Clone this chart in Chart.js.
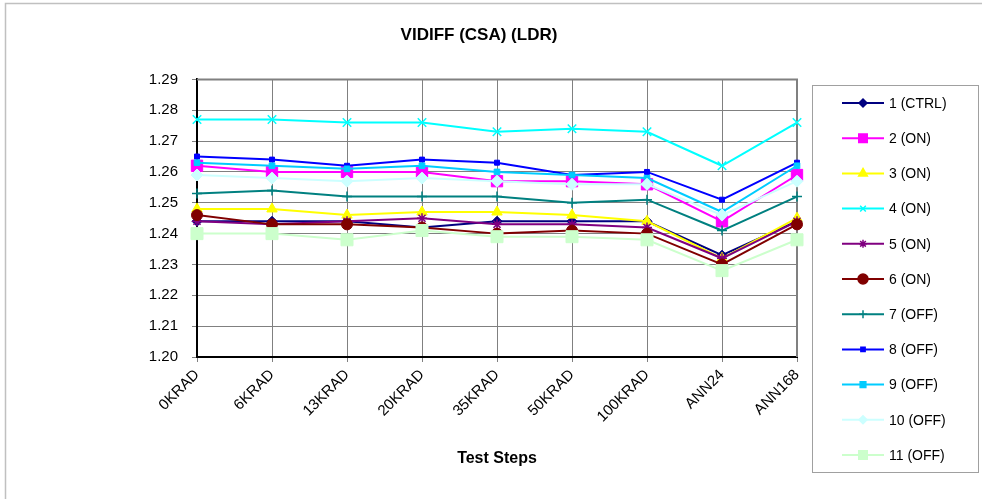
<!DOCTYPE html>
<html>
<head>
<meta charset="utf-8">
<script src="https://cdn.jsdelivr.net/npm/chart.js@4/dist/chart.umd.min.js"></script>
<style>
  html, body { margin: 0; padding: 0; background: #fff; }
  #wrap { width: 982px; height: 499px; position: relative; }
</style>
</head>
<body>
<div id="wrap"><canvas id="chart" width="982" height="499"></canvas></div>
<script>
(function () {
    var steps = ['0KRAD', '6KRAD', '13KRAD', '20KRAD', '35KRAD', '50KRAD', '100KRAD', 'ANN24', 'ANN168'];

    var seriesNames = ['1 (CTRL)', '2 (ON)', '3 (ON)', '4 (ON)', '5 (ON)', '6 (ON)',
        '7 (OFF)', '8 (OFF)', '9 (OFF)', '10 (OFF)', '11 (OFF)'];

    var s1 = [1.244, 1.244, 1.244, 1.242, 1.244, 1.244, 1.244, 1.233, 1.244];
    var s2 = [1.262, 1.260, 1.260, 1.260, 1.257, 1.257, 1.256, 1.244, 1.259];
    var s3 = [1.248, 1.248, 1.246, 1.247, 1.247, 1.246, 1.244, 1.232, 1.245];
    var s4 = [1.277, 1.277, 1.276, 1.276, 1.273, 1.274, 1.273, 1.262, 1.276];
    var s5 = [1.244, 1.243, 1.244, 1.245, 1.243, 1.243, 1.242, 1.232, 1.244];
    var s6 = [1.246, 1.243, 1.243, 1.242, 1.240, 1.241, 1.240, 1.230, 1.243];
    var s7 = [1.253, 1.254, 1.252, 1.252, 1.252, 1.250, 1.251, 1.241, 1.252];
    var s8 = [1.265, 1.264, 1.262, 1.264, 1.263, 1.259, 1.260, 1.251, 1.263];
    var s9 = [1.263, 1.262, 1.261, 1.262, 1.260, 1.259, 1.258, 1.247, 1.262];
    var s10 = [1.259, 1.258, 1.257, 1.258, 1.257, 1.256, 1.256, 1.246, 1.257];
    var s11 = [1.240, 1.240, 1.238, 1.241, 1.239, 1.239, 1.238, 1.228, 1.238];

    var yMin = 1.20, yMax = 1.29, yStep = 0.01;

    var allValues = [s1, s2, s3, s4, s5, s6, s7, s8, s9, s10, s11];

    // excel-ish look for each series: colour, marker, marker size, legend marker size
    var looks = [
        { color: '#000080', style: 'rectRot', r: 5, lr: 4 },
        { color: '#FF00FF', style: 'rect', r: 8, lr: 6 },
        { color: '#FFFF00', style: 'triangle', r: 6, lr: 5 },
        { color: '#00FFFF', style: 'crossRot', r: 6, lr: 4 },
        { color: '#800080', style: 'star', r: 5, lr: 4 },
        { color: '#800000', style: 'circle', r: 5.5, lr: 5 },
        { color: '#008080', style: 'cross', r: 5, lr: 4 },
        { color: '#0000FF', style: 'rect', r: 3.5, lr: 3 },
        { color: '#00CCFF', style: 'rect', r: 4, lr: 4 },
        { color: '#CCFFFF', style: 'rectRot', r: 6, lr: 4 },
        { color: '#CCFFCC', style: 'rect', r: 8.5, lr: 6 }
    ];

    var FONT = "'Liberation Sans', Arial, sans-serif";

    var datasets = allValues.map(function (vals, i) {
        var lk = looks[i];
        var lineOnly = lk.style === 'cross' || lk.style === 'crossRot' || lk.style === 'star';
        return {
            label: seriesNames[i],
            data: vals,
            yAxisID: 'y',
            borderColor: lk.color,
            backgroundColor: lk.color,
            borderWidth: 2,
            pointStyle: lk.style,
            pointRadius: lk.r,
            pointHoverRadius: lk.r,
            pointBorderWidth: lineOnly ? 1.5 : 1,
            pointBorderColor: lk.color,
            pointBackgroundColor: lk.color,
            tension: 0,
            fill: false,
            order: allValues.length - i
        };
    });

    // outer frame + plot frame
    var framePlugin = {
        id: 'frames',
        beforeDraw: function (chart) {
            var ctx = chart.ctx;
            ctx.save();
            ctx.fillStyle = '#fff';
            ctx.fillRect(0, 0, chart.width, chart.height);
            ctx.strokeStyle = '#c0c0c0';
            ctx.lineWidth = 1.5;
            ctx.strokeRect(5.5, 3.5, chart.width + 20, chart.height + 20);
            ctx.restore();
        },
        beforeDatasetsDraw: function (chart) {
            var a = chart.chartArea;
            var ctx = chart.ctx;
            ctx.save();
            ctx.strokeStyle = '#808080';
            ctx.lineWidth = 2;
            ctx.beginPath();
            ctx.moveTo(a.left, a.top);
            ctx.lineTo(a.right, a.top);
            ctx.lineTo(a.right, a.bottom);
            ctx.stroke();
            ctx.restore();
        }
    };

    // legend box on the right, line + marker samples like excel
    var legendPlugin = {
        id: 'sideLegend',
        afterDraw: function (chart) {
            var ctx = chart.ctx;
            var a = chart.chartArea;
            var boxL = a.right + 15, boxT = 85, boxR = 978, boxB = 472;
            ctx.save();
            ctx.strokeStyle = '#a0a0a0';
            ctx.lineWidth = 1;
            ctx.strokeRect(boxL + 0.5, boxT + 0.5, boxR - boxL, boxB - boxT);
            var gap = 35.2;
            chart.data.datasets.forEach(function (ds, i) {
                var lk = looks[i];
                var y = 103 + gap * i;
                var x0 = boxL + 30, x1 = boxL + 72, xm = (x0 + x1) / 2;
                ctx.strokeStyle = lk.color;
                ctx.lineWidth = 2;
                ctx.beginPath();
                ctx.moveTo(x0, y);
                ctx.lineTo(x1, y);
                ctx.stroke();
                ctx.fillStyle = lk.color;
                ctx.lineWidth = 1.5;
                Chart.helpers.drawPoint(ctx, { pointStyle: lk.style, radius: lk.lr, rotation: 0, borderWidth: 1.5 }, xm, y);
                ctx.fillStyle = '#000';
                ctx.font = '14px ' + FONT;
                ctx.textAlign = 'left';
                ctx.textBaseline = 'middle';
                ctx.fillText(ds.label, x1 + 5, y + 1);
            });
            ctx.restore();
        }
    };

    var ctx = document.getElementById('chart').getContext('2d');
    new Chart(ctx, {
        type: 'line',
        data: { labels: steps, datasets: datasets },
        plugins: [framePlugin, legendPlugin],
        options: {
            responsive: false,
            animation: false,
            layout: { padding: { left: 0, right: 24, top: 0, bottom: 0 } },
            plugins: {
                legend: { display: false },
                tooltip: { enabled: false },
                title: {
                    display: true,
                    text: 'VIDIFF (CSA) (LDR)',
                    color: '#000',
                    font: { family: FONT, size: 17, weight: 'bold' },
                    padding: { top: 25, bottom: 34 }
                }
            },
            scales: {
                x: {
                    offset: false,
                    grid: {
                        color: '#808080',
                        lineWidth: 1,
                        borderDash: [2, 2],
                        tickLength: 5,
                        tickColor: '#808080',
                        drawTicks: true
                    },
                    border: { color: '#000', width: 2 },
                    ticks: {
                        autoSkip: false,
                        minRotation: 45,
                        maxRotation: 45,
                        color: '#000',
                        padding: 4,
                        font: { family: FONT, size: 15 }
                    },
                    title: {
                        display: true,
                        text: 'Test Steps',
                        color: '#000',
                        font: { family: FONT, size: 16, weight: 'bold' },
                        padding: { top: 4, bottom: 31 }
                    },
                    afterFit: function (scale) { scale.height = 142; }
                },
                y: {
                    min: yMin,
                    max: yMax,
                    grid: {
                        color: '#808080',
                        lineWidth: 1,
                        borderDash: [2, 2],
                        tickLength: 5,
                        tickColor: '#808080'
                    },
                    border: { color: '#000', width: 2 },
                    ticks: {
                        stepSize: yStep,
                        color: '#000',
                        padding: 14,
                        font: { family: FONT, size: 15 },
                        callback: function (v) { return Number(v).toFixed(2); }
                    },
                    afterFit: function (scale) { scale.width = 197; }
                },
                // empty right-hand axis that only reserves room for the legend box
                side: {
                    position: 'right',
                    grid: { display: false, drawTicks: false },
                    border: { display: false },
                    ticks: { display: false },
                    afterFit: function (scale) { scale.width = 161; }
                }
            }
        }
    });
})();
</script>
</body>
</html>
